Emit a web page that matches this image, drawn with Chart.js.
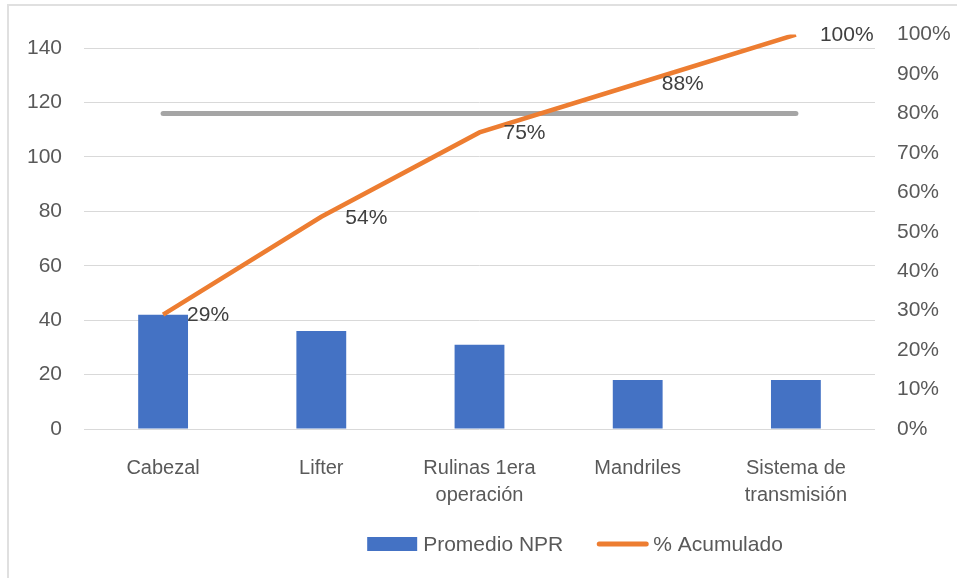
<!DOCTYPE html>
<html><head><meta charset="utf-8">
<script src="https://cdn.jsdelivr.net/npm/chart.js@4"></script>
<style>
html,body{margin:0;padding:0;background:#fff;}
#wrap{position:relative;width:957px;height:578px;overflow:hidden;}
#frame{position:absolute;left:7px;top:4px;width:1000px;height:1000px;border:2px solid #e0e0e0;pointer-events:none;}
canvas{position:absolute;left:0;top:0;}
</style></head><body>
<div id="wrap"><canvas id="c" width="957" height="578"></canvas><div id="frame"></div></div>
<script>
const categories = ['Cabezal', 'Lifter', ['Rulinas 1era', 'operación'], 'Mandriles', ['Sistema de', 'transmisión']];
const nprValues = [42, 36, 31, 18, 18];
const cumulativeShare = [0.29, 0.538, 0.752, 0.876, 1.0];
const targetLine = [0.8, 0.8, 0.8, 0.8, 0.8];
const leftAxisMax = 145;
const leftAxisStep = 20;
const rightAxisMax = 1;
const rightAxisStep = 0.1;
const seriesNames = ['Promedio NPR', '% Acumulado'];

const FONT = '"Liberation Sans", Arial, sans-serif';
const tickColor = '#595959';

const labelPlugin = {
  id: 'pointLabels',
  afterDatasetsDraw(chart) {
    const ctx = chart.ctx;
    const meta = chart.getDatasetMeta(1);
    ctx.save();
    ctx.font = '21px ' + FONT;
    ctx.fillStyle = '#404040';
    ctx.textAlign = 'left';
    ctx.textBaseline = 'middle';
    meta.data.forEach((pt, i) => {
      ctx.fillText(Math.round(cumulativeShare[i] * 100) + '%', pt.x + 24, pt.y + 1);
    });
    ctx.restore();
  }
};

const legendPlugin = {
  id: 'customLegend',
  afterDraw(chart) {
    const ctx = chart.ctx;
    const ds = chart.data.datasets;
    ctx.save();
    ctx.font = '21px ' + FONT;
    const w1 = ctx.measureText(ds[0].label).width;
    const w2 = ctx.measureText(ds[1].label).width;
    const total = 50 + 6 + w1 + 34 + 51 + 5 + w2;
    let x = 575 - total / 2;
    const y = 544;
    ctx.fillStyle = ds[0].backgroundColor;
    ctx.fillRect(x, y - 7, 50, 14);
    x += 56;
    ctx.fillStyle = tickColor;
    ctx.textBaseline = 'middle';
    ctx.textAlign = 'left';
    ctx.fillText(ds[0].label, x, y + 1);
    x += w1 + 34;
    ctx.strokeStyle = ds[1].borderColor;
    ctx.lineWidth = 5;
    ctx.lineCap = 'round';
    ctx.beginPath();
    ctx.moveTo(x + 2, y);
    ctx.lineTo(x + 49, y);
    ctx.stroke();
    x += 56;
    ctx.fillText(ds[1].label, x, y + 1);
    ctx.restore();
  }
};

new Chart(document.getElementById('c'), {
  type: 'bar',
  data: {
    labels: categories,
    datasets: [
      {
        label: seriesNames[0],
        data: nprValues,
        backgroundColor: '#4472C4',
        yAxisID: 'y',
        order: 3,
        barPercentage: 0.315,
        categoryPercentage: 1
      },
      {
        type: 'line',
        label: seriesNames[1],
        data: cumulativeShare,
        borderColor: '#ED7D31',
        backgroundColor: '#ED7D31',
        borderWidth: 4.5,
        pointRadius: 0,
        tension: 0,
        yAxisID: 'y1',
        order: 1
      },
      {
        type: 'line',
        label: '80%',
        data: targetLine,
        borderColor: '#A5A5A5',
        borderWidth: 5,
        borderCapStyle: 'round',
        pointRadius: 0,
        yAxisID: 'y1',
        order: 2
      }
    ]
  },
  options: {
    responsive: false,
    animation: false,
    devicePixelRatio: 1,
    layout: { padding: { top: 34, left: 0, right: 0, bottom: 0 } },
    plugins: { legend: { display: false }, tooltip: { enabled: false } },
    scales: {
      x: {
        grid: { display: false },
        border: { display: false },
        ticks: {
          color: tickColor,
          font: { family: FONT, size: 20, lineHeight: 1.35 },
          padding: 18,
          maxRotation: 0,
          autoSkip: false
        },
        afterFit(scale) { scale.height = 149; }
      },
      y: {
        position: 'left',
        min: 0,
        max: leftAxisMax,
        grid: { color: '#d9d9d9', lineWidth: 1, drawTicks: false },
        border: { display: false },
        ticks: {
          stepSize: leftAxisStep,
          includeBounds: false,
          color: tickColor,
          font: { family: FONT, size: 21 },
          padding: 22
        },
        afterFit(scale) { scale.width = 84; }
      },
      y1: {
        position: 'right',
        min: 0,
        max: rightAxisMax,
        grid: { display: false, drawTicks: false },
        border: { display: false },
        ticks: {
          stepSize: rightAxisStep,
          color: tickColor,
          font: { family: FONT, size: 21 },
          padding: 22,
          callback: v => Math.round(v * 100) + '%'
        },
        afterFit(scale) { scale.width = 82; }
      }
    }
  },
  plugins: [labelPlugin, legendPlugin]
});
</script>
</body></html>
